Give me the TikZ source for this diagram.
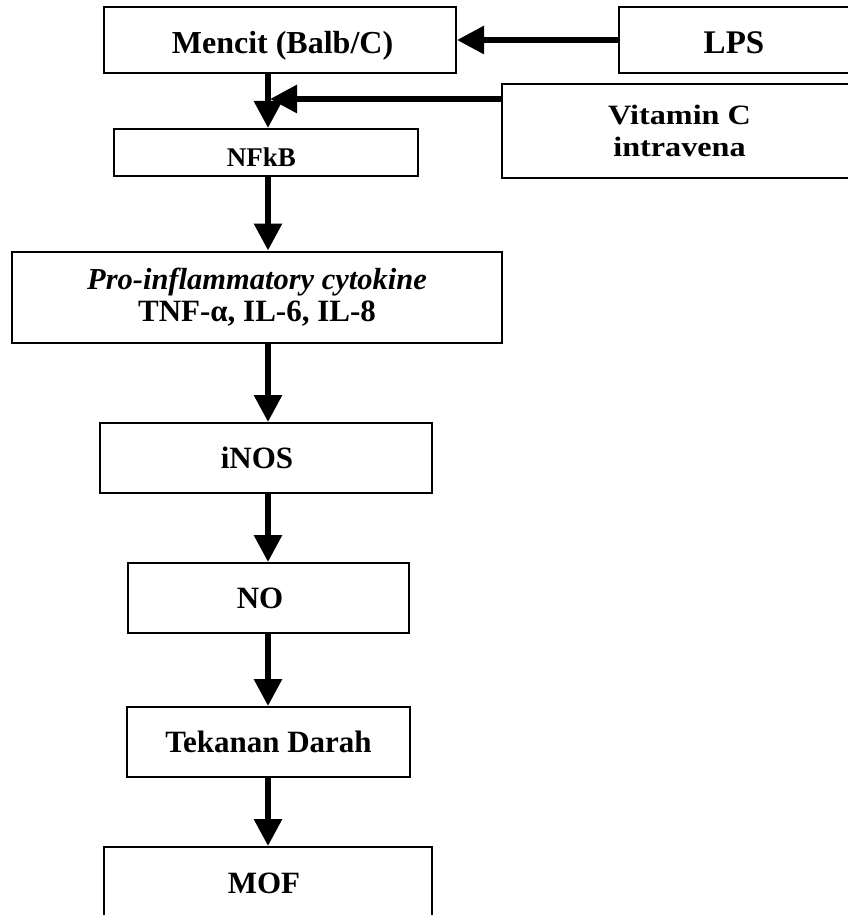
\documentclass[tikz,border=0pt]{standalone}
\usepackage{fontspec}
\usepackage{graphicx}
\setmainfont{Liberation Serif}
\usetikzlibrary{arrows.meta}
\begin{document}
\begin{tikzpicture}[x=1pt,y=-1pt,
  box/.style={draw=black, line width=2pt, rectangle, inner sep=0pt, align=center,
    font=\bfseries\fontsize{31}{32}\selectfont},
  oneline/.style={text height=21pt, text depth=0pt},
  flow/.style={line width=6pt, -{Triangle[length=27pt,width=27pt]}}]
\useasboundingbox (0,0) rectangle (847,915);
\coordinate (sp) at (268,0);
\coordinate (vtip) at (270,99);
\node[box, minimum width=352, minimum height=66, text height=27pt, text depth=0pt,
  font=\bfseries\fontsize{32}{34}\selectfont] (mencit) at (280,40) {\hspace*{5pt}Mencit (Balb/C)};
\node[box, minimum width=230, minimum height=66, text height=27pt, text depth=0pt,
  font=\bfseries\fontsize{33}{34}\selectfont] (lps) at (734,40) {LPS};
\node[box, minimum width=347, minimum height=94, font=\bfseries\fontsize{28}{32}\selectfont] (vit) at (675.5,131)
  {\hspace*{8pt}\scalebox{1.15}[1]{Vitamin C}\\\hspace*{8pt}\scalebox{1.15}[1]{intravena}};
\node[box, minimum width=304, minimum height=47, text height=27pt, text depth=0pt,
  font=\bfseries\fontsize{27}{30}\selectfont] (nfkb) at (266,152.5) {NFkB\hspace*{9pt}};
\node[box, minimum width=490, minimum height=91, font=\bfseries\fontsize{31}{32}\selectfont] (pro) at (257,297)
  {\textit{\fontsize{30.5}{32}\selectfont Pro-inflammatory cytokine}\\TNF-α, IL-6, IL-8};
\node[box, oneline, minimum width=332, minimum height=70] (inos) at (266,458) {iNOS\hspace*{18pt}};
\node[box, oneline, minimum width=281, minimum height=70] (no) at (268.5,598) {NO\hspace*{17pt}};
\node[box, oneline, minimum width=283, minimum height=70] (td) at (268.5,742) {Tekanan Darah};
\node[box, oneline, minimum width=328, minimum height=70, text height=23pt] (mof) at (268,882) {MOF\hspace*{8pt}};
\draw[flow] (lps.west) -- (mencit.east);
\draw[flow] (mencit.south -| sp) -- (nfkb.north -| sp);
\draw[flow] (vit.west |- vtip) -- (vtip);
\draw[flow] (nfkb.south -| sp) -- (pro.north -| sp);
\draw[flow] (pro.south -| sp) -- (inos.north -| sp);
\draw[flow] (inos.south -| sp) -- (no.north -| sp);
\draw[flow] (no.south -| sp) -- (td.north -| sp);
\draw[flow] (td.south -| sp) -- (mof.north -| sp);
\end{tikzpicture}
\end{document}
